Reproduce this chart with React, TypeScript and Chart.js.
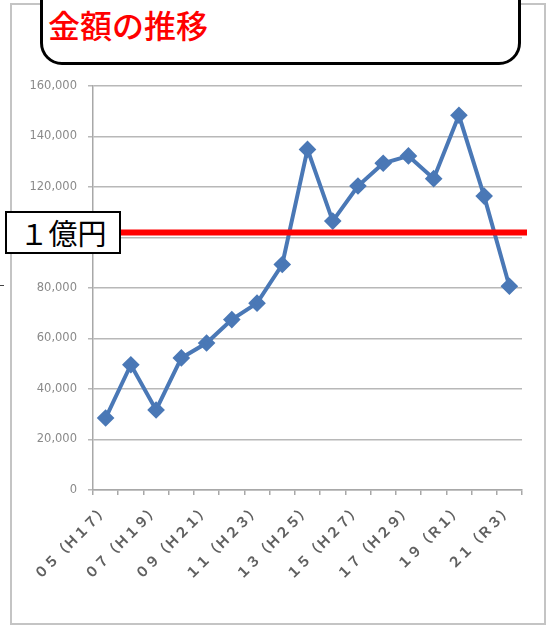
import { useEffect, useRef } from "react";
import Chart from "chart.js/auto";

const TITLE = "金額の推移";
const CATEGORIES = [
  "０５（Ｈ１７）", "０６（Ｈ１８）", "０７（Ｈ１９）", "０８（Ｈ２０）", "０９（Ｈ２１）",
  "１０（Ｈ２２）", "１１（Ｈ２３）", "１２（Ｈ２４）", "１３（Ｈ２５）", "１４（Ｈ２６）",
  "１５（Ｈ２７）", "１６（Ｈ２８）", "１７（Ｈ２９）", "１８（Ｈ３０）", "１９（Ｒ１）",
  "２０（Ｒ２）", "２１（Ｒ３）",
];
const AMOUNTS = [
  28500, 49600, 31700, 52300, 58200, 67500, 74000, 89300, 134900,
  106500, 120400, 129400, 132300, 123300, 148400, 116400, 80700,
];
const Y_MIN = 0;
const Y_MAX = 160000;
const Y_STEP = 20000;
const THRESHOLD_VALUE = 102000;
const THRESHOLD_LABEL = "１億円";

const LINE_COLOR = "#4a78b6";

const thresholdPlugin = {
  id: "threshold",
  afterDatasetsDraw(chart: any) {
    const { ctx, chartArea } = chart;
    const y = chart.scales.y.getPixelForValue(THRESHOLD_VALUE);
    ctx.save();
    ctx.strokeStyle = "#ff0000";
    ctx.lineWidth = 6;
    ctx.beginPath();
    ctx.moveTo(chartArea.left, y);
    ctx.lineTo(chartArea.right + 5, y);
    ctx.stroke();
    ctx.restore();
  },
};

export default function App() {
  const ref = useRef<HTMLCanvasElement | null>(null);

  useEffect(() => {
    if (!ref.current) return;
    const chart = new Chart(ref.current, {
      type: "line",
      data: {
        labels: CATEGORIES,
        datasets: [
          {
            data: AMOUNTS,
            borderColor: LINE_COLOR,
            backgroundColor: LINE_COLOR,
            borderWidth: 4,
            pointStyle: "rectRot",
            pointRadius: 6,
            pointBackgroundColor: LINE_COLOR,
            pointBorderColor: LINE_COLOR,
            tension: 0,
          },
        ],
      },
      options: {
        animation: false,
        responsive: false,
        layout: { padding: { top: 86, right: 26, left: 0, bottom: 0 } },
        plugins: { legend: { display: false }, tooltip: { enabled: false } },
        scales: {
          x: {
            offset: true,
            afterFit: (s: any) => {
              s.height = 136;
            },
            grid: {
              offset: true,
              drawOnChartArea: false,
              drawTicks: true,
              tickLength: 5,
              color: "#a8a8a8",
              lineWidth: 1.5,
            },
            border: { color: "#a8a8a8", width: 1.5 },
            ticks: {
              autoSkip: false,
              minRotation: 45,
              maxRotation: 45,
              padding: 6,
              color: "#606060",
              font: { family: "'Noto Sans CJK JP'", size: 14, weight: "bold" },
              callback: (_v: any, i: number) => (i % 2 === 0 ? CATEGORIES[i] : ""),
            },
          },
          y: {
            min: Y_MIN,
            max: Y_MAX,
            afterFit: (s: any) => {
              s.width = 93;
            },
            grid: {
              color: "#b8b8b8",
              lineWidth: 1.5,
              tickLength: 5,
            },
            border: { color: "#a8a8a8", width: 1.5 },
            ticks: {
              stepSize: Y_STEP,
              padding: 11,
              color: "#8a8a8a",
              font: { family: "'DejaVu Sans'", size: 11.5 },
              callback: (v: any) => Number(v).toLocaleString("en-US"),
            },
          },
        },
      },
      plugins: [thresholdPlugin],
    });
    return () => chart.destroy();
  }, []);

  return (
    <div
      style={{
        position: "absolute",
        left: 0,
        top: 0,
        width: 548,
        height: 626,
        overflow: "hidden",
        background: "#fff",
        fontFamily: "'Noto Sans CJK JP', sans-serif",
      }}
    >
      <div
        style={{
          position: "absolute",
          left: 10,
          top: 3,
          width: 536,
          height: 622,
          border: "2px solid #c4c4c4",
          boxSizing: "border-box",
        }}
      />
      <canvas
        ref={ref}
        width={548}
        height={626}
        style={{ position: "absolute", left: 0, top: 0, width: 548, height: 626 }}
      />
      <div
        style={{
          position: "absolute",
          left: 40,
          top: -25,
          width: 481,
          height: 90,
          border: "3px solid #000",
          borderRadius: 22,
          background: "#fff",
          boxSizing: "border-box",
        }}
      />
      <div
        style={{
          position: "absolute",
          left: 48,
          top: 8,
          fontSize: 32,
          lineHeight: 1,
          color: "#ff0000",
          fontWeight: 500,
          whiteSpace: "nowrap",
        }}
      >
        {TITLE}
      </div>
      <div
        style={{
          position: "absolute",
          left: 5,
          top: 211,
          width: 116,
          height: 43,
          border: "2px solid #000",
          background: "#fff",
          boxSizing: "border-box",
          display: "flex",
          alignItems: "center",
          justifyContent: "center",
          fontSize: 29,
          lineHeight: 1,
          color: "#000",
        }}
      >
        {THRESHOLD_LABEL}
      </div>
      <div
        style={{
          position: "absolute",
          left: 0,
          top: 285,
          width: 4,
          height: 1,
          background: "#444",
        }}
      />
    </div>
  );
}
